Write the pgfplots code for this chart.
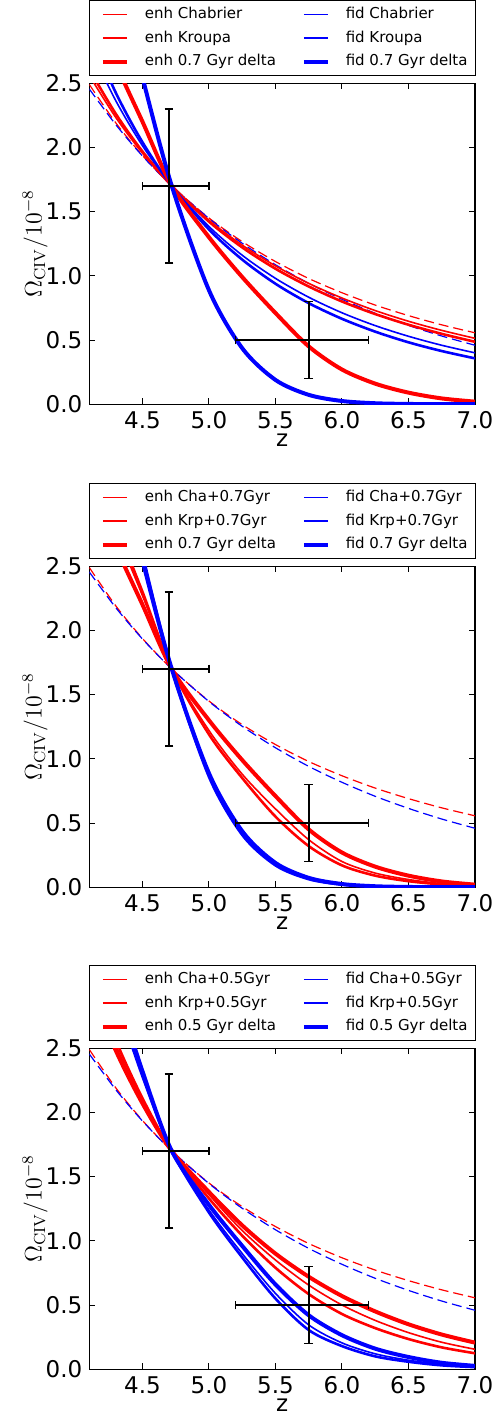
\documentclass[border=0pt]{standalone}
\usepackage[no-math]{fontspec}
\setmainfont{DejaVu Sans}
\usepackage{pgfplots}
\usepackage{pgfplotstable}
\pgfplotsset{compat=1.18}

% Omega_CIV / 1e-8 against redshift
\pgfplotstableread{
z     enh    fid
4.10  2.490  2.455
4.30  2.190  2.176
4.50  1.937  1.933
4.72  1.700  1.700
5.00  1.450  1.446
5.25  1.266  1.253
5.50  1.111  1.086
5.75  0.979  0.941
6.00  0.868  0.817
6.25  0.772  0.708
6.50  0.690  0.614
6.75  0.618  0.531
7.00  0.556  0.459
}\dashed

\pgfplotstableread{
z     eCha   eKrp   eDel   fCha   fKrp   fDel
4.10  2.560  2.608  3.15   2.787  2.898  4.157
4.30  2.232  2.260  2.65   2.362  2.424  3.383
4.50  1.955  1.968  2.20   2.013  2.040  2.545
4.72  1.700  1.700  1.70   1.700  1.700  1.700
5.00  1.433  1.422  1.30   1.384  1.361  0.887
5.25  1.239  1.221  0.99   1.160  1.126  0.436
5.50  1.077  1.055  0.71   0.980  0.938  0.189
5.75  0.941  0.917  0.45   0.833  0.787  0.0728
6.00  0.827  0.800  0.27   0.712  0.665  0.0248
6.25  0.729  0.702  0.16   0.612  0.565  0.0074
6.50  0.646  0.619  0.09   0.529  0.482  0.0020
6.75  0.575  0.548  0.045  0.459  0.414  0.0005
7.00  0.513  0.486  0.02   0.400  0.357  0.0001
}\pone

\pgfplotstableread{
z     eCha   eKrp   eDel   fCha   fKrp   fDel
4.10  3.35   3.42   3.15   4.256  4.339  4.157
4.30  2.78   2.83   2.65   3.443  3.497  3.383
4.50  2.27   2.30   2.20   2.571  2.595  2.545
4.72  1.70   1.70   1.70   1.700  1.700  1.700
5.00  1.22   1.19   1.30   0.873  0.859  0.887
5.25  0.88   0.85   0.99   0.422  0.407  0.436
5.50  0.61   0.55   0.71   0.180  0.170  0.189
5.75  0.37   0.32   0.45   0.0677 0.0623 0.0728
6.00  0.20   0.17   0.27   0.0225 0.0201 0.0248
6.25  0.11   0.09   0.16   0.0066 0.0057 0.0074
6.50  0.06   0.047  0.09   0.0017 0.0014 0.0020
6.75  0.028  0.022  0.045  0.0004 0.0003 0.0005
7.00  0.012  0.009  0.02   0.0001 0.0001 0.0001
}\ptwo

\pgfplotstableread{
z     eCha   eKrp   eDel   fCha   fKrp   fDel
4.10  3.05   3.12   2.98   3.65   3.60   3.75
4.30  2.52   2.56   2.48   2.92   2.90   2.98
4.50  2.09   2.11   2.07   2.29   2.28   2.32
4.72  1.70   1.70   1.70   1.70   1.70   1.70
5.00  1.36   1.33   1.38   1.24   1.22   1.28
5.25  1.08   1.04   1.12   0.90   0.87   0.96
5.50  0.85   0.79   0.90   0.59   0.55   0.66
5.75  0.655  0.585  0.72   0.345  0.305  0.42
6.00  0.50   0.43   0.57   0.205  0.18   0.265
6.25  0.38   0.32   0.45   0.12   0.10   0.16
6.50  0.285  0.235  0.35   0.07   0.058  0.095
6.75  0.21   0.17   0.27   0.038  0.03   0.05
7.00  0.155  0.124  0.207  0.02   0.016  0.026
}\pthree

\pgfplotsset{
  legend image code/.code={\path (0pt,0pt); \draw[#1] (1.5pt,0pt) -- (13.5pt,0pt);},
  panel/.style={
    scale only axis, width=192.85pt, height=160.5pt,
    xmin=4.1, xmax=7.0, ymin=0, ymax=2.5,
    xtick={4.5,5.0,5.5,6.0,6.5,7.0},
    ytick={0,0.5,1.0,1.5,2.0,2.5},
    tick align=inside, major tick length=3pt,
    tick style={black, line width=0.5pt},
    axis line style={black, line width=0.6pt},
    /pgf/number format/assume math mode=true,
    ticklabel style={font=\fontsize{11.5}{13.8}\selectfont},
    xticklabel style={/pgf/number format/.cd, fixed, fixed zerofill, precision=1},
    yticklabel style={/pgf/number format/.cd, fixed, fixed zerofill, precision=1},
    xlabel={z},
    xlabel style={font=\fontsize{11.5}{13.8}\selectfont, inner sep=1pt, yshift=2pt},
    ylabel={$\Omega_{\rm CIV}/10^{-8}$},
    ylabel style={font=\fontsize{11.5}{13.8}\selectfont},
    ylabel shift=-7.8pt,
    legend columns=2,
    legend cell align=left,
    legend style={
      at={(0,1)}, anchor=south west, yshift=3.5pt,
      draw=black, line width=0.6pt,
      font=\fontsize{7.5}{9}\selectfont,
      inner xsep=4pt, inner ysep=3.3pt, row sep=4.35pt,
      nodes={inner sep=0pt, text height=5.8pt, text depth=1.6pt},
      /tikz/every odd column/.append style={column sep=8pt},
      /tikz/every even column/.append style={column sep=11.4pt},
    },
  },
  enhA/.style={draw=red, line width=0.8pt, smooth},
  enhB/.style={draw=red, line width=1.3pt, smooth},
  enhC/.style={draw=red, line width=2pt, smooth},
  fidA/.style={draw=blue, line width=0.8pt, smooth},
  fidB/.style={draw=blue, line width=1.3pt, smooth},
  fidC/.style={draw=blue, line width=2pt, smooth},
  dash/.style={line width=0.6pt, smooth, dash pattern=on 5pt off 2.5pt, forget plot},
  obs/.style={draw=none, mark=none, forget plot,
    error bars/.cd, x dir=both, x explicit, y dir=both, y explicit,
    error bar style={draw=black, line width=0.8pt, solid},
    error mark=-,
    error mark options={rotate=90, draw=black, line width=0.8pt, mark size=2.2pt}},
}

\newcommand{\observed}{%
  \addplot[obs] coordinates {
    (4.70,1.7) += (0.30,0.6) -= (0.20,0.6)
    (5.75,0.5) += (0.45,0.3) -= (0.55,0.3)
  };}

\begin{document}
\begin{tikzpicture}
\useasboundingbox (-44.65pt,41.6pt) rectangle (204.35pt,-665.4pt);

\begin{axis}[panel, at={(0,0)}, anchor=north west]
\addplot[dash, draw=red] table[x=z, y=enh] \dashed;
\addplot[dash, draw=blue] table[x=z, y=fid] \dashed;
\addplot[enhA] table[x=z, y=eCha] \pone; \addlegendentry{enh Chabrier}
\addplot[fidA] table[x=z, y=fCha] \pone; \addlegendentry{fid Chabrier}
\addplot[enhB] table[x=z, y=eKrp] \pone; \addlegendentry{enh Kroupa}
\addplot[fidB] table[x=z, y=fKrp] \pone; \addlegendentry{fid Kroupa}
\addplot[enhC] table[x=z, y=eDel] \pone; \addlegendentry{enh 0.7 Gyr delta}
\addplot[fidC] table[x=z, y=fDel] \pone; \addlegendentry{fid 0.7 Gyr delta}
\observed
\end{axis}

\begin{axis}[panel, at={(0,-241.5pt)}, anchor=north west]
\addplot[dash, draw=red] table[x=z, y=enh] \dashed;
\addplot[dash, draw=blue] table[x=z, y=fid] \dashed;
\addplot[enhA] table[x=z, y=eCha] \ptwo; \addlegendentry{enh Cha+0.7Gyr}
\addplot[fidA] table[x=z, y=fCha] \ptwo; \addlegendentry{fid Cha+0.7Gyr}
\addplot[enhB] table[x=z, y=eKrp] \ptwo; \addlegendentry{enh Krp+0.7Gyr}
\addplot[fidB] table[x=z, y=fKrp] \ptwo; \addlegendentry{fid Krp+0.7Gyr}
\addplot[enhC] table[x=z, y=eDel] \ptwo; \addlegendentry{enh 0.7 Gyr delta}
\addplot[fidC] table[x=z, y=fDel] \ptwo; \addlegendentry{fid 0.7 Gyr delta}
\observed
\end{axis}

\begin{axis}[panel, at={(0,-482.5pt)}, anchor=north west]
\addplot[dash, draw=red] table[x=z, y=enh] \dashed;
\addplot[dash, draw=blue] table[x=z, y=fid] \dashed;
\addplot[enhA] table[x=z, y=eCha] \pthree; \addlegendentry{enh Cha+0.5Gyr}
\addplot[fidA] table[x=z, y=fCha] \pthree; \addlegendentry{fid Cha+0.5Gyr}
\addplot[enhB] table[x=z, y=eKrp] \pthree; \addlegendentry{enh Krp+0.5Gyr}
\addplot[fidB] table[x=z, y=fKrp] \pthree; \addlegendentry{fid Krp+0.5Gyr}
\addplot[enhC] table[x=z, y=eDel] \pthree; \addlegendentry{enh 0.5 Gyr delta}
\addplot[fidC] table[x=z, y=fDel] \pthree; \addlegendentry{fid 0.5 Gyr delta}
\observed
\end{axis}
\end{tikzpicture}
\end{document}
